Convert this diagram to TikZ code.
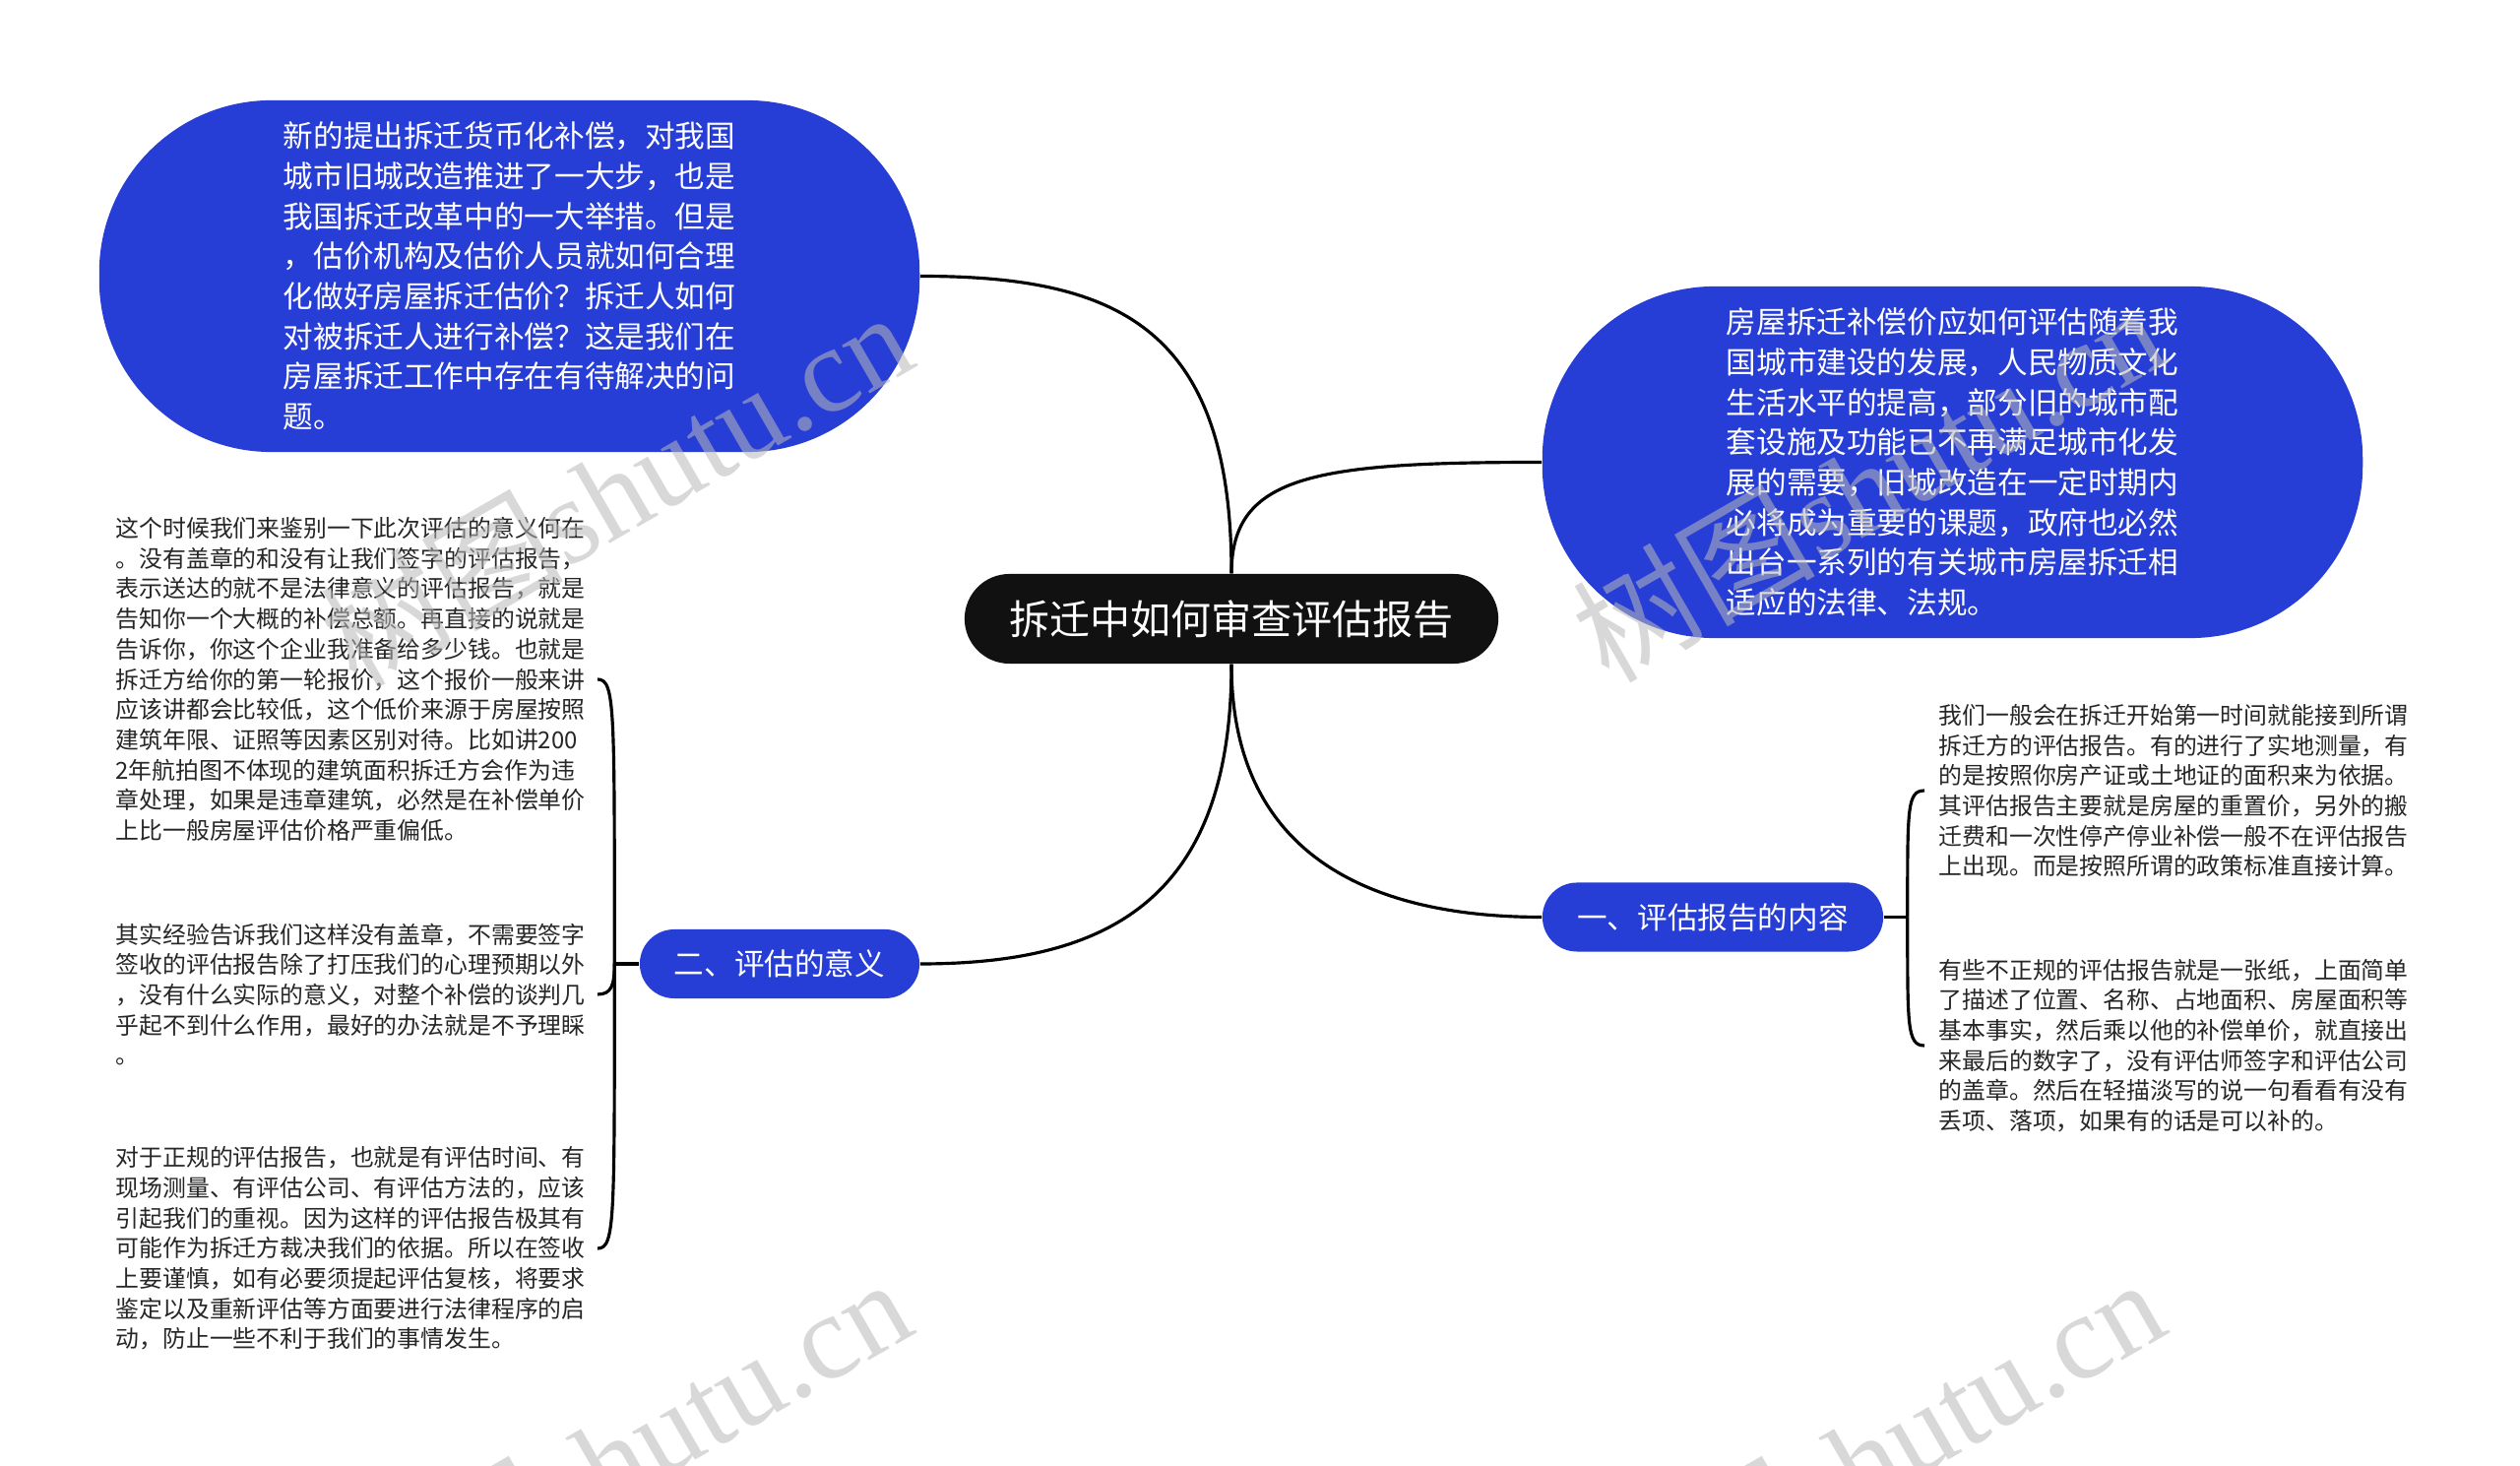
\documentclass[tikz,border=0pt]{standalone}
\usepackage{fontspec}
\newfontfamily\cjk{Noto Sans CJK SC}
\newfontfamily\wmfont{Liberation Serif}
\usetikzlibrary{calc}
\definecolor{nodeblue}{RGB}{38,61,214}
\definecolor{rootblack}{RGB}{17,17,17}
\definecolor{leafgray}{RGB}{38,38,38}
\definecolor{wmgray}{RGB}{185,185,185}
\begin{document}
\begin{tikzpicture}[x=0.01cm,y=-0.01cm,
  link/.style={line width=0.9pt, black},
  bigblob/.style={fill=nodeblue, text=white, rounded corners=1.75cm, minimum width=8.33cm, minimum height=3.57cm, inner sep=0pt, align=left, font=\cjk\fontsize{8.71pt}{11.57pt}\selectfont},
  rootnode/.style={fill=rootblack, text=white, rounded corners=0.455cm, minimum width=5.42cm, minimum height=0.91cm, inner sep=0pt, font=\cjk\fontsize{11.67pt}{14pt}\selectfont},
  branch/.style={fill=nodeblue, text=white, rounded corners=0.35cm, minimum height=0.70cm, inner sep=0pt, font=\cjk\fontsize{8.7pt}{10pt}\selectfont},
  leaf/.style={text=leafgray, align=left, inner sep=0pt, anchor=west, font=\cjk\fontsize{6.78pt}{8.73pt}\selectfont},
  watermark/.style={text=wmgray, text opacity=0.55, rotate=30, anchor=base east, inner sep=0pt, font=\wmfont\fontsize{35pt}{40pt}\selectfont}
]
\fill[white] (0,0) rectangle (2560,1489);
\useasboundingbox (0,0) rectangle (2560,1489);

% nodes
\node[rootnode] (c) at (1251,628.5) {拆迁中如何审查评估报告};
\node[bigblob] (tl) at (517.5,280.5) {新的提出拆迁货币化补偿，对我国\\城市旧城改造推进了一大步，也是\\我国拆迁改革中的一大举措。但是\\，估价机构及估价人员就如何合理\\化做好房屋拆迁估价？拆迁人如何\\对被拆迁人进行补偿？这是我们在\\房屋拆迁工作中存在有待解决的问\\题。};
\node[bigblob] (tr) at (1983.5,469.5) {房屋拆迁补偿价应如何评估随着我\\国城市建设的发展，人民物质文化\\生活水平的提高，部分旧的城市配\\套设施及功能已不再满足城市化发\\展的需要，旧城改造在一定时期内\\必将成为重要的课题，政府也必然\\出台一系列的有关城市房屋拆迁相\\适应的法律、法规。};
\node[branch, minimum width=2.84cm] (b2) at (792,979) {二、评估的意义};
\node[branch, minimum width=3.46cm] (b1) at (1740,931.5) {一、评估报告的内容};

\node[leaf] (l1) at (117,690) {这个时候我们来鉴别一下此次评估的意义何在\\。没有盖章的和没有让我们签字的评估报告，\\表示送达的就不是法律意义的评估报告，就是\\告知你一个大概的补偿总额。再直接的说就是\\告诉你，你这个企业我准备给多少钱。也就是\\拆迁方给你的第一轮报价，这个报价一般来讲\\应该讲都会比较低，这个低价来源于房屋按照\\建筑年限、证照等因素区别对待。比如讲200\\2年航拍图不体现的建筑面积拆迁方会作为违\\章处理，如果是违章建筑，必然是在补偿单价\\上比一般房屋评估价格严重偏低。};
\node[leaf] (l2) at (117,1010) {其实经验告诉我们这样没有盖章，不需要签字\\签收的评估报告除了打压我们的心理预期以外\\，没有什么实际的意义，对整个补偿的谈判几\\乎起不到什么作用，最好的办法就是不予理睬\\。};
\node[leaf] (l3) at (117,1268) {对于正规的评估报告，也就是有评估时间、有\\现场测量、有评估公司、有评估方法的，应该\\引起我们的重视。因为这样的评估报告极其有\\可能作为拆迁方裁决我们的依据。所以在签收\\上要谨慎，如有必要须提起评估复核，将要求\\鉴定以及重新评估等方面要进行法律程序的启\\动，防止一些不利于我们的事情发生。};
\node[leaf] (r1) at (1969,803) {我们一般会在拆迁开始第一时间就能接到所谓\\拆迁方的评估报告。有的进行了实地测量，有\\的是按照你房产证或土地证的面积来为依据。\\其评估报告主要就是房屋的重置价，另外的搬\\迁费和一次性停产停业补偿一般不在评估报告\\上出现。而是按照所谓的政策标准直接计算。};
\node[leaf] (r2) at (1969,1062) {有些不正规的评估报告就是一张纸，上面简单\\了描述了位置、名称、占地面积、房屋面积等\\基本事实，然后乘以他的补偿单价，就直接出\\来最后的数字了，没有评估师签字和评估公司\\的盖章。然后在轻描淡写的说一句看看有没有\\丢项、落项，如果有的话是可以补的。};

% main connectors
\draw[link] (c.north) .. controls +(0,-250) and +(200,0) .. (tl.east);
\draw[link] (c.north) .. controls +(0,-100) and +(-230,0) .. (tr.west);
\draw[link] (c.south) .. controls +(0,240) and +(190,0) .. (b2.east);
\draw[link] (c.south) .. controls +(0,190) and +(-180,0) .. (b1.west);

% left bracket
\coordinate (j2) at ($(b2.west)+(-25,0)$);
\coordinate (e1) at ($(l1.west)+(490,0)$);
\coordinate (e2) at ($(l2.west)+(490,0)$);
\coordinate (e3) at ($(l3.west)+(490,0)$);
\draw[link] (b2.west) -- (j2);
\draw[link] (j2) .. controls +(0,-260) and +(18,0) .. (e1);
\draw[link] (j2) .. controls +(0,22) and +(14,0) .. (e2);
\draw[link] (j2) .. controls +(0,260) and +(18,0) .. (e3);

% right bracket
\coordinate (j1) at ($(b1.east)+(24,0)$);
\coordinate (f1) at ($(r1.west)+(-14,0)$);
\coordinate (f2) at ($(r2.west)+(-14,0)$);
\draw[link] (b1.east) -- (j1);
\draw[link] (j1) .. controls +(0,-110) and +(-18,0) .. (f1);
\draw[link] (j1) .. controls +(0,110) and +(-18,0) .. (f2);

% watermarks
\node[watermark] (w1) at (935,370) {{\cjk 树图}shutu.cn};
\node[watermark] (w2) at (2207,365) {{\cjk 树图}shutu.cn};
\node[watermark] (w3) at (934,1352) {{\cjk 树图}shutu.cn};
\node[watermark] (w4) at (2207,1352) {{\cjk 树图}shutu.cn};
\end{tikzpicture}
\end{document}
